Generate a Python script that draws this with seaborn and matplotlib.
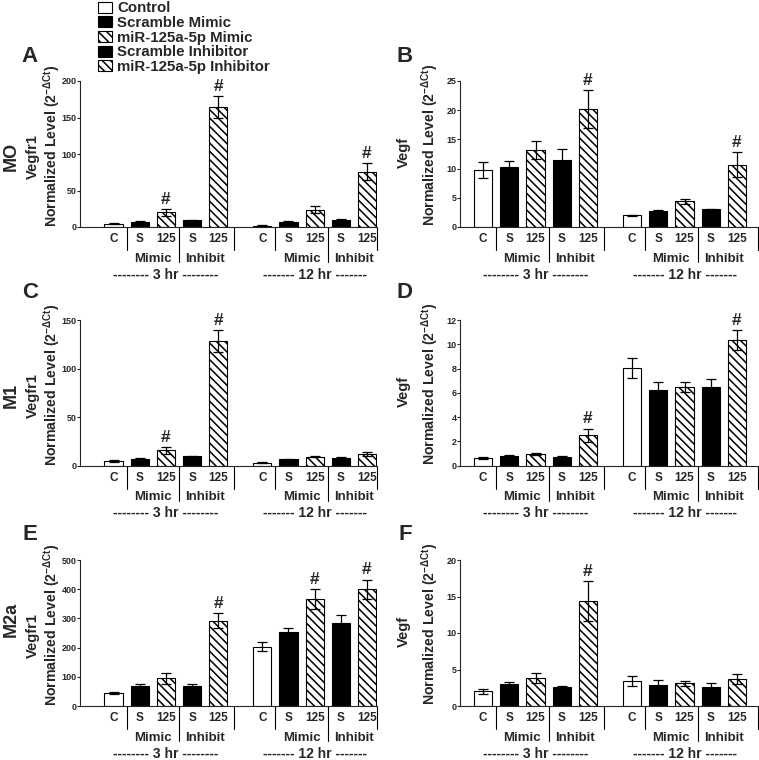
import matplotlib
matplotlib.use("Agg")
import matplotlib.pyplot as plt
from matplotlib.patches import Patch
import numpy as np
import pandas as pd
import seaborn as sns

sns.set_style("ticks")
plt.rcParams["font.family"] = ["Liberation Sans", "DejaVu Sans"]
plt.rcParams["font.weight"] = "bold"
plt.rcParams["mathtext.fontset"] = "custom"
plt.rcParams["mathtext.rm"] = "Liberation Sans:bold"
plt.rcParams["mathtext.bf"] = "Liberation Sans:bold"
plt.rcParams["mathtext.it"] = "Liberation Sans:bold"
plt.rcParams["mathtext.default"] = "bf"
plt.rcParams["hatch.linewidth"] = 1.1

# ---- data ----
groups = ["Control", "Scramble Mimic", "miR-125a-5p Mimic",
          "Scramble Inhibitor", "miR-125a-5p Inhibitor"]
tick_labels = ["C", "S", "125", "S", "125"]
time_labels = ["-------- 3 hr --------", "------- 12 hr -------"]
row_labels = ["MO", "M1", "M2a"]
panel_letters = ["A", "B", "C", "D", "E", "F"]
genes = ["Vegfr1", "Vegf"]

# each list: 3 hr (C, S mimic, 125 mimic, S inhib, 125 inhib) then 12 hr
mo_vegfr1 = [4.5, 7.0, 20.0, 9.0, 165.0, 2.0, 7.0, 23.5, 9.5, 76.0]
mo_vegfr1_err = [0.8, 0.8, 5.0, 1.0, 15.0, 0.3, 0.8, 5.0, 1.0, 12.0]
mo_vegf = [9.8, 10.2, 13.2, 11.4, 20.2, 2.0, 2.8, 4.4, 3.0, 10.7]
mo_vegf_err = [1.4, 1.1, 1.6, 1.9, 3.2, 0.1, 0.05, 0.4, 0.05, 2.2]
m1_vegfr1 = [4.5, 7.2, 15.5, 9.3, 128.5, 2.8, 6.2, 9.0, 8.0, 12.0]
m1_vegfr1_err = [0.7, 0.7, 3.5, 1.0, 11.0, 0.3, 0.5, 0.5, 0.7, 2.0]
m1_vegf = [0.62, 0.78, 0.97, 0.72, 2.5, 8.05, 6.25, 6.5, 6.45, 10.35]
m1_vegf_err = [0.05, 0.1, 0.1, 0.05, 0.55, 0.8, 0.65, 0.4, 0.65, 0.8]
m2a_vegfr1 = [45.0, 68.0, 95.0, 70.0, 292.0, 203.0, 252.0, 366.0, 283.0, 400.0]
m2a_vegfr1_err = [4.0, 8.0, 18.0, 7.0, 26.0, 15.0, 14.0, 33.0, 28.0, 33.0]
m2a_vegf = [2.0, 2.95, 3.85, 2.65, 14.4, 3.45, 2.85, 3.1, 2.6, 3.75]
m2a_vegf_err = [0.3, 0.3, 0.7, 0.15, 2.7, 0.7, 0.65, 0.3, 0.5, 0.7]

panels = [
    (mo_vegfr1, mo_vegfr1_err, [2, 4, 9], [0, 50, 100, 150, 200]),
    (mo_vegf, mo_vegf_err, [4, 9], [0, 5, 10, 15, 20, 25]),
    (m1_vegfr1, m1_vegfr1_err, [2, 4], [0, 50, 100, 150]),
    (m1_vegf, m1_vegf_err, [4, 9], [0, 2, 4, 6, 8, 10, 12]),
    (m2a_vegfr1, m2a_vegfr1_err, [4, 7, 9], [0, 100, 200, 300, 400, 500]),
    (m2a_vegf, m2a_vegf_err, [4], [0, 5, 10, 15, 20]),
]

# ---- layout ----
W, H = 759, 760
fig = plt.figure(figsize=(W / 100, H / 100), dpi=100)

gap = 5.68
pos = np.array([0, 1, 2, 3, 4, gap, gap + 1, gap + 2, gap + 3, gap + 4])
seps_short = [0.5, 4.6, gap + 0.5]
seps_long = [2.5, gap + 2.5]

col_left = [80, 460]
col_width = [297, 298]
col_xlim = [(-1.28, 10.06), (-0.88, 10.48)]
row_top = [81, 320, 560]
row_height = [146, 145.5, 146]

hatch = "\\\\\\\\"
styles = [("white", ""), ("black", ""), ("white", hatch), ("black", ""), ("white", hatch)]

for k, (vals, errs, hashes, yticks) in enumerate(panels):
    r, c = divmod(k, 2)
    left, top, w, h = col_left[c], row_top[r], col_width[c], row_height[r]
    ax = fig.add_axes([left / W, 1 - (top + h) / H, w / W, h / H])

    df = pd.DataFrame({"pos": pos, "value": vals})
    sns.barplot(data=df, x="pos", y="value", native_scale=True, color="white",
                width=0.69, errorbar=None, ax=ax)
    bars = sorted(ax.patches, key=lambda p: p.get_x())
    for i, p in enumerate(bars):
        fc, ht = styles[i % 5]
        p.set_facecolor(fc)
        p.set_edgecolor("black")
        p.set_linewidth(0.8)
        p.set_hatch(ht)
    ax.errorbar(pos, vals, yerr=errs, fmt="none", ecolor="black",
                elinewidth=0.9, capsize=3.5, capthick=0.9, zorder=5)
    for i in hashes:
        ax.annotate("#", xy=(pos[i], vals[i] + errs[i]), xytext=(0, 1.5),
                    textcoords="offset points", ha="center", va="bottom",
                    fontsize=12.5, fontweight="bold")

    ax.set_xlim(*col_xlim[c])
    ax.set_ylim(yticks[0], yticks[-1])
    ax.set_yticks(yticks)
    ax.set_xticks([])
    ax.set_xlabel("")
    ax.set_ylabel("")
    ax.tick_params(axis="y", labelsize=6.5, length=2, width=0.8, pad=0.5)
    for lab in ax.get_yticklabels():
        lab.set_fontweight("bold")
    sns.despine(ax=ax)
    ax.spines["left"].set_linewidth(0.8)
    ax.spines["bottom"].set_linewidth(0.8)

    # category rows under the axis
    tr = ax.get_xaxis_transform()
    for i in range(10):
        ax.annotate(tick_labels[i % 5], xy=(pos[i], 0), xycoords=tr,
                    xytext=(0, -8.9), textcoords="offset points",
                    ha="center", va="center", fontsize=8.5, fontweight="bold")
    for g in range(2):
        base = g * gap
        ax.annotate("Mimic", xy=(base + 1.5, 0), xycoords=tr, xytext=(0, -22.7),
                    textcoords="offset points", ha="center", va="center",
                    fontsize=9.5, fontweight="bold")
        ax.annotate("Inhibit", xy=(base + 3.5, 0), xycoords=tr, xytext=(0, -22.7),
                    textcoords="offset points", ha="center", va="center",
                    fontsize=9.5, fontweight="bold")
        ax.annotate(time_labels[g], xy=(base + 2, 0), xycoords=tr, xytext=(0, -34.5),
                    textcoords="offset points", ha="center", va="center",
                    fontsize=10, fontweight="bold")
    short = 23 / h
    longl = 35 / h
    for s in seps_short + [col_xlim[c][1]]:
        ax.plot([s, s], [0, -short], transform=tr, clip_on=False, color="black", lw=0.8)
    for s in seps_long:
        ax.plot([s, s], [0, -longl], transform=tr, clip_on=False, color="black", lw=0.8)

    # y labels
    dy = top - 81
    if c == 0:
        fig.text(33 / W, 1 - (157 + dy) / H, genes[c], rotation=90, ha="center",
                 va="center", fontsize=10.5, fontweight="bold")
        fig.text(52 / W, 1 - (146 + dy) / H, r"Normalized Level (2$^{-\Delta Ct}$)",
                 rotation=90, ha="center", va="center", fontsize=10.2, fontweight="bold")
    else:
        fig.text(404 / W, 1 - (152 + dy) / H, genes[c], rotation=90, ha="center",
                 va="center", fontsize=10.5, fontweight="bold")
        fig.text(430 / W, 1 - (145 + dy) / H, r"Normalized Level (2$^{-\Delta Ct}$)",
                 rotation=90, ha="center", va="center", fontsize=10.2, fontweight="bold")

    # panel letters
    lx = 30 if c == 0 else 405
    ly = [57, 293, 535][r]
    fig.text(lx / W, 1 - ly / H, panel_letters[k], ha="center", va="center",
             fontsize=16, fontweight="bold")

# row labels
for r, (lab, yc) in enumerate(zip(row_labels, [156, 395, 619])):
    fig.text(11 / W, 1 - yc / H, lab, rotation=90, ha="center", va="center",
             fontsize=13, fontweight="bold")

# legend
handles = [Patch(facecolor=fc, edgecolor="black", hatch=ht, linewidth=0.8)
           for fc, ht in styles]
fig.legend(handles, groups, loc="upper left", bbox_to_anchor=(96 / W, 1.0),
           frameon=False, prop={"size": 10.8, "weight": "bold"},
           handlelength=0.95, handleheight=0.75, handletextpad=0.35,
           labelspacing=0.04, borderpad=0.1, borderaxespad=0)

fig.savefig("out.png", dpi=100)
